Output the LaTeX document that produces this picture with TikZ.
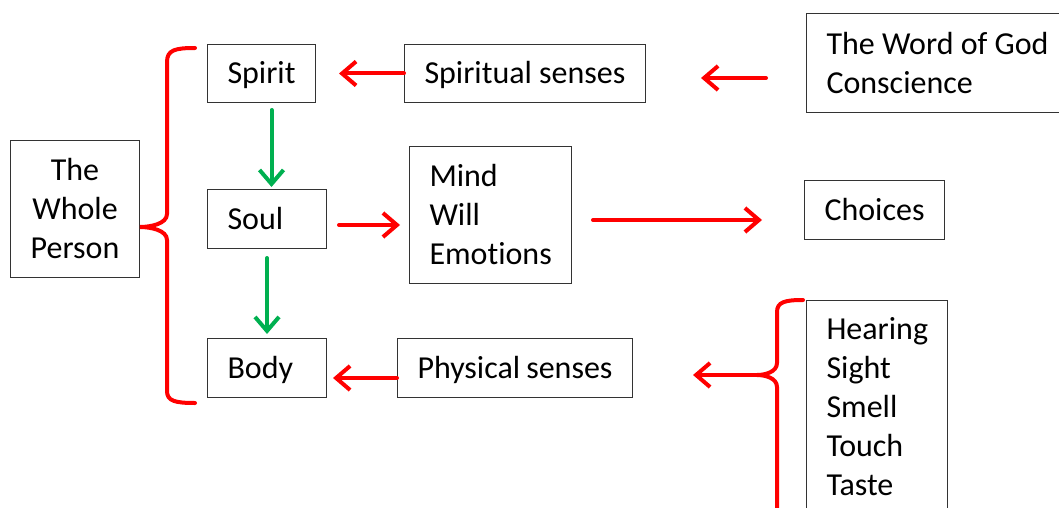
\documentclass[tikz,border=0pt]{standalone}
\usepackage{fontspec}
\setmainfont{Carlito}[Ligatures=NoCommon]
\usetikzlibrary{arrows.meta}
\definecolor{pptgreen}{RGB}{0,176,80}

\begin{document}
\begin{tikzpicture}[x=1pt, y=-1pt, thick,
    box/.style = {draw=black!80, line width=1pt, anchor=north west, inner xsep=20pt, inner ysep=0pt, align=flush left, font=\fontsize{32}{39}\selectfont, execute at begin node={\spaceskip=0pt\xspaceskip=0pt}},
    oneline/.style = {text height=26pt, text depth=6pt},
    redarrow/.style = {draw=red, line width=4pt, line cap=round, -{Straight Barb[length=14pt, width=24pt]}},
    greenarrow/.style = {draw=pptgreen, line width=4pt, line cap=round, -{Straight Barb[length=14pt, width=24pt]}},
    bracket/.style = {draw=red, line width=4pt, line cap=round}]
    \useasboundingbox (0,0) rectangle (1059,508);
    \clip (0,0) rectangle (1059,508);
    % the person
    \node[box, align=flush center, inner xsep=0pt, text width=129pt, minimum height=137pt] (whole) at (10,140) {The\\Whole\\Person};
    \node[box, oneline, text width=68pt, minimum height=58pt] (spirit) at (207,44) {Spirit};
    \node[box, oneline, text width=79pt, minimum height=59pt] (soul) at (207,189) {Soul};
    \node[box, oneline, text width=79pt, minimum height=59pt] (body) at (207,338) {Body};
    % what reaches each part
    \node[box, oneline, text width=201pt, minimum height=58pt] (spiritsenses) at (404,44) {Spiritual~senses};
    \node[box, text width=122pt, minimum height=137pt] (mind) at (409,146) {Mind\\Will\\Emotions};
    \node[box, oneline, text width=195pt, minimum height=59pt] (physsenses) at (397,338) {Physical~senses};
    \node[box, text width=230pt, minimum height=99pt] (word) at (806,13) {The~Word~of~God\\Conscience};
    \node[box, oneline, text width=100pt, minimum height=59pt] (choices) at (804,180) {Choices};
    \node[box, text width=101pt, minimum height=213pt] (senses) at (806,300) {Hearing\\Sight\\Smell\\Touch\\Taste};
    % braces
    \draw[bracket] (195,48) .. controls (175,48) and (167,50) .. (167,62) -- (167,214)
        .. controls (167,224) and (150,227) .. (140,227)
        .. controls (150,227) and (167,230) .. (167,240) -- (167,391)
        .. controls (167,401) and (175,403) .. (195,403);
    \draw[bracket] (803,300) .. controls (785,300) and (777,302) .. (777,312) -- (777,363)
        .. controls (777,372) and (765,375) .. (757,375)
        .. controls (765,375) and (777,378) .. (777,387) -- (777,520);
    \coordinate (sensetip) at (757,375);
    % arrows
    \draw[redarrow, shorten >=23pt] (spiritsenses.west) -- (spirit.east);
    \draw[redarrow, shorten <=40pt, shorten >=55pt] ([yshift=-15pt]word.west) -- ([yshift=-15pt]word.west -| spiritsenses.east);
    \draw[redarrow, shorten <=12pt, shorten >=9pt] ([yshift=-6pt]soul.east) -- ([yshift=-6pt]soul.east -| mind.west);
    \draw[redarrow, shorten <=21pt, shorten >=42pt] ([yshift=-5pt]mind.east) -- ([yshift=-5pt]mind.east -| choices.west);
    \draw[redarrow, shorten >=6pt] ([yshift=-10pt]physsenses.west) -- ([yshift=-10pt]physsenses.west -| body.east);
    \draw[redarrow, shorten >=60pt] (sensetip) -- (sensetip -| physsenses.east);
    \draw[greenarrow, shorten <=7pt, shorten >=2pt] ([xshift=10pt]spirit.south) -- ([xshift=10pt]spirit.south |- soul.north);
    \draw[greenarrow, shorten <=9pt, shorten >=4pt] (soul.south) -- (body.north);
\end{tikzpicture}
\end{document}
